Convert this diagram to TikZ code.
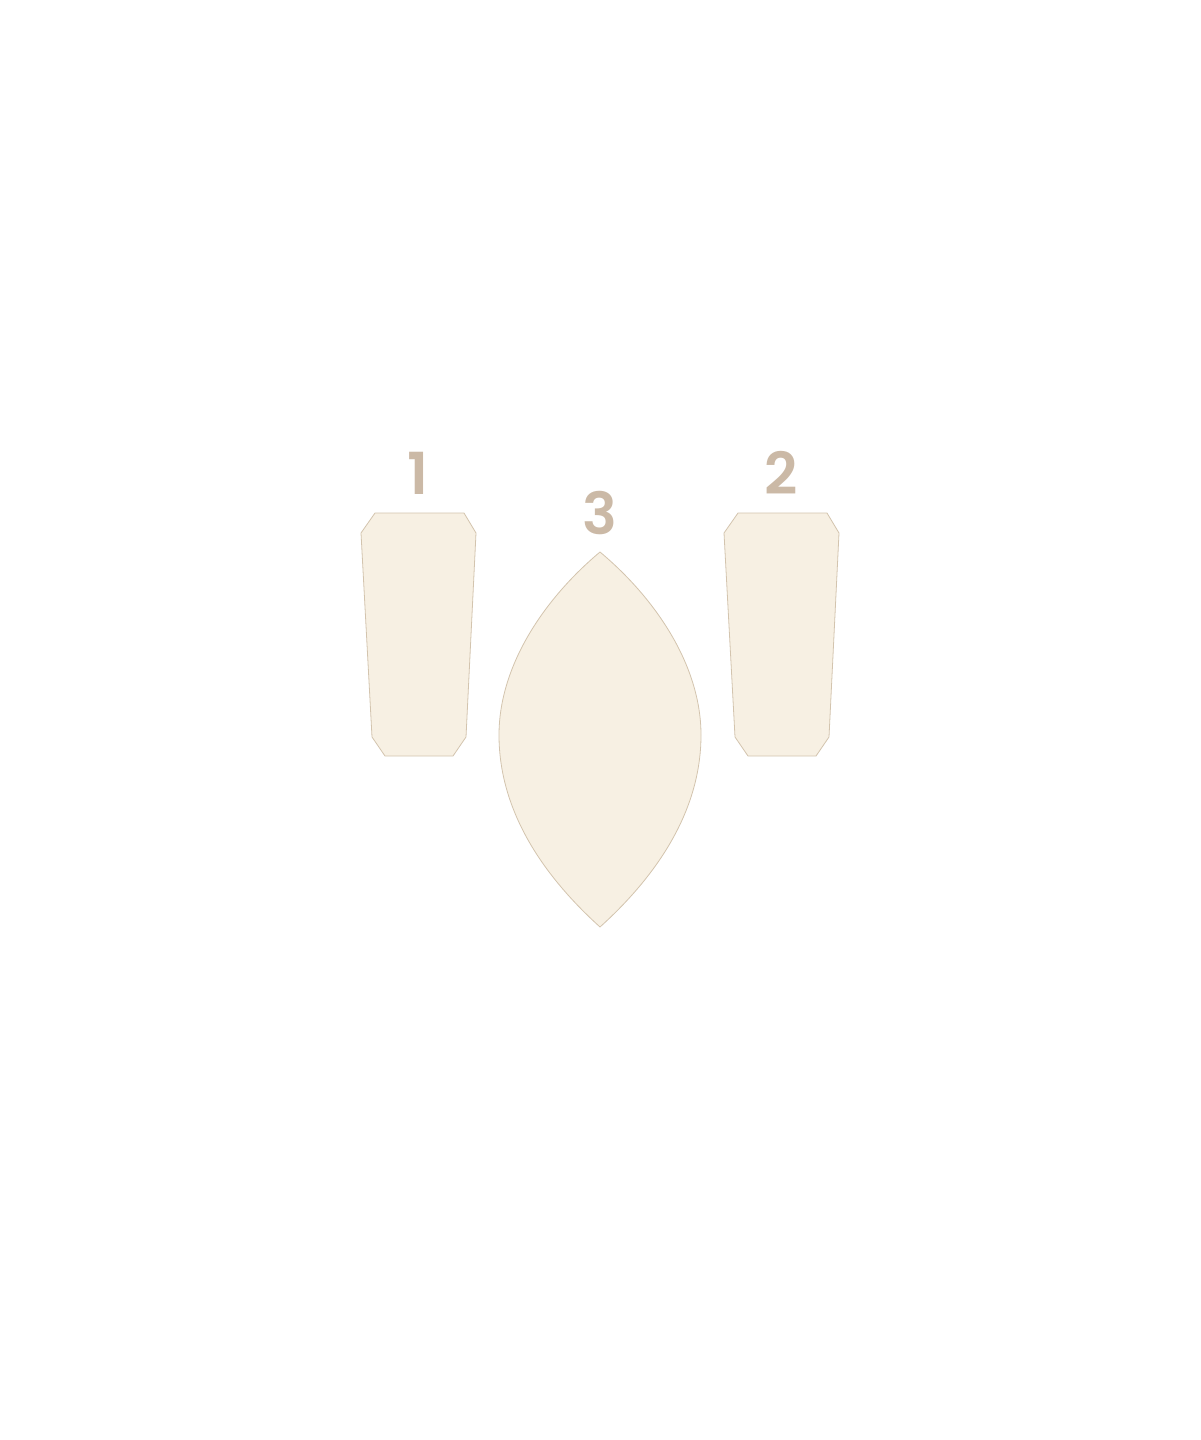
\documentclass[tikz,border=0pt]{standalone}
\usepackage{fontspec}
\setmainfont{Poppins}[BoldFont={Poppins SemiBold}]
\usetikzlibrary{positioning}
\definecolor{piecefill}{HTML}{F7F0E3}
\definecolor{pieceline}{HTML}{D3C4AE}
\definecolor{labelcol}{HTML}{CBB9A6}
\tikzstyle{piece} = [draw=pieceline, line width=0.4pt, fill=piecefill, line join=round]
\tikzstyle{num} = [text=labelcol, font=\fontsize{29}{30}\selectfont\bfseries, inner sep=0pt]

\begin{document}
\begin{tikzpicture}[x=0.5pt, y=-0.5pt]
        \useasboundingbox (0,0) rectangle (1200,1440);
        % Pieces
        \draw [piece] (375,513) -- (464,513) -- (476,533) -- (466,737) -- (453,756)
                -- (385,756) -- (372,737) -- (361,533) -- cycle;
        \draw [piece] (738,513) -- (827,513) -- (839,533) -- (829,737) -- (816,756)
                -- (748,756) -- (735,737) -- (724,533) -- cycle;
        \draw [piece] (600,552) .. controls (545,598) and (499,665) .. (499,735)
                .. controls (499,815) and (548,880) .. (600,927)
                .. controls (652,880) and (701,815) .. (701,735)
                .. controls (701,665) and (655,598) .. (600,552) -- cycle;

        % Labels
        \node (one) [num] at (418,473) {1};
        \node (two) [num] at (781,473) {2};
        \node (three) [num] at (600,513) {3};
    \end{tikzpicture}
\end{document}
